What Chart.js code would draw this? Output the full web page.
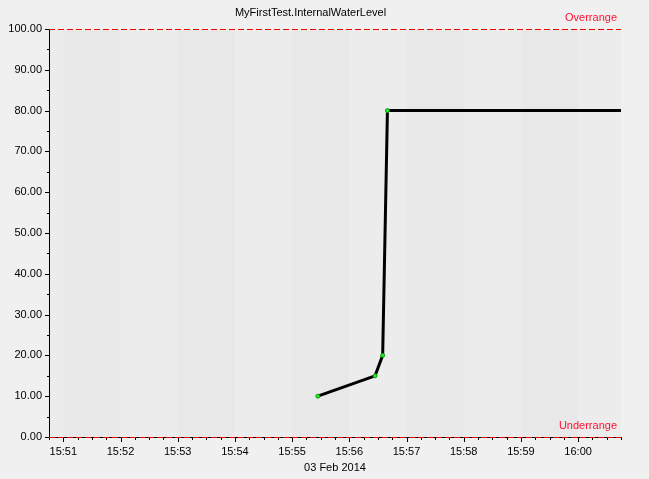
<!DOCTYPE html>
<html>
<head>
<meta charset="utf-8">
<script src="https://cdn.jsdelivr.net/npm/chart.js@4.4.1/dist/chart.umd.min.js"></script>
<style>
  html, body { margin: 0; padding: 0; background: #f0f0f0; }
  canvas { display: block; }
</style>
</head>
<body>
<canvas id="chart" width="649" height="479"></canvas>
<script>
// times are seconds after 15:50:00, 03 Feb 2014
var sampleTimes = [327, 387, 395, 400, 645];
var waterLevel  = [10, 15, 20, 80, 80];

var minuteStarts = [60, 120, 180, 240, 300, 360, 420, 480, 540, 600];
var minuteLabels = ['15:51', '15:52', '15:53', '15:54', '15:55', '15:56', '15:57', '15:58', '15:59', '16:00'];
var dateLabel = '03 Feb 2014';
var chartTitle = 'MyFirstTest.InternalWaterLevel';

var xMin = 45, xMax = 645;
var overLimit = 100, underLimit = 0;

var FONT = "'Liberation Sans', Arial, sans-serif";

var decorPlugin = {
  id: 'decor',
  beforeDraw: function (chart) {
    var ctx = chart.ctx, a = chart.chartArea, x = chart.scales.x;
    var edges = [xMin].concat(minuteStarts).concat([xMax]);
    ctx.save();
    for (var i = 0; i < edges.length - 1; i++) {
      ctx.fillStyle = i % 2 === 0 ? '#ececec' : '#e8e8e8';
      var x0 = x.getPixelForValue(edges[i]);
      var x1 = x.getPixelForValue(edges[i + 1]);
      ctx.fillRect(x0, a.top, x1 - x0, a.bottom - a.top);
    }
    ctx.restore();
  },
  afterDraw: function (chart) {
    var ctx = chart.ctx, a = chart.chartArea, x = chart.scales.x, y = chart.scales.y;
    ctx.save();
    ctx.strokeStyle = '#000';
    ctx.lineWidth = 1;
    ctx.beginPath();
    x.ticks.forEach(function (t) {
      var px = Math.round(x.getPixelForValue(t.value)) + 0.5;
      var len = t.value % 60 === 0 ? 5 : 3;
      ctx.moveTo(px, a.bottom);
      ctx.lineTo(px, a.bottom + len);
    });
    y.ticks.forEach(function (t) {
      var py = Math.round(y.getPixelForValue(t.value)) + 0.5;
      var len = t.value % 10 === 0 ? 4 : 2;
      ctx.moveTo(a.left, py);
      ctx.lineTo(a.left - len, py);
    });
    ctx.stroke();

    // limit lines
    ctx.strokeStyle = '#ee0000';
    ctx.setLineDash([6, 3]);
    [overLimit, underLimit].forEach(function (v) {
      var py = Math.round(y.getPixelForValue(v)) + 0.5;
      ctx.beginPath();
      ctx.moveTo(a.left, py);
      ctx.lineTo(a.right, py);
      ctx.stroke();
    });
    ctx.setLineDash([]);

    ctx.fillStyle = '#ff1030';
    ctx.font = '11px ' + FONT;
    ctx.textAlign = 'right';
    ctx.textBaseline = 'middle';
    ctx.fillText('Overrange', a.right - 4, y.getPixelForValue(overLimit) - 11);
    ctx.fillText('Underrange', a.right - 4, y.getPixelForValue(underLimit) - 11);
    ctx.restore();
  }
};

new Chart(document.getElementById('chart'), {
  type: 'line',
  data: {
    datasets: [{
      label: chartTitle,
      data: sampleTimes.map(function (t, i) { return { x: t, y: waterLevel[i] }; }),
      borderColor: '#000',
      borderWidth: 3,
      tension: 0,
      pointRadius: sampleTimes.map(function (t, i) { return i === sampleTimes.length - 1 ? 0 : 2; }),
      pointBackgroundColor: '#22ee22',
      pointBorderColor: '#119911',
      pointBorderWidth: 1
    }]
  },
  options: {
    responsive: false,
    animation: false,
    layout: { padding: { top: 0, right: 28, left: 0, bottom: 0 } },
    plugins: {
      legend: { display: false },
      tooltip: { enabled: false },
      title: {
        display: true,
        text: chartTitle,
        color: '#000',
        font: { family: FONT, size: 11, weight: 'normal', lineHeight: '13px' },
        padding: { top: 6, bottom: 10 }
      }
    },
    scales: {
      x: {
        type: 'linear',
        min: xMin,
        max: xMax,
        grid: { display: false, drawTicks: false },
        border: { display: true, color: '#000' },
        ticks: {
          stepSize: 15,
          autoSkip: false,
          maxRotation: 0,
          padding: 8,
          color: '#000',
          font: { family: FONT, size: 11 },
          callback: function (v) {
            var k = minuteStarts.indexOf(v);
            return k >= 0 ? minuteLabels[k] : '';
          }
        },
        title: {
          display: true,
          text: dateLabel,
          color: '#000',
          font: { family: FONT, size: 11, lineHeight: '13px' },
          padding: { top: 0, bottom: 5 }
        },
        afterFit: function (s) { s.height = 42; }
      },
      y: {
        min: 0,
        max: 100,
        grid: { display: false, drawTicks: false },
        border: { display: true, color: '#000' },
        ticks: {
          stepSize: 5,
          padding: 7,
          color: '#000',
          font: { family: FONT, size: 11 },
          callback: function (v) { return v % 10 === 0 ? v.toFixed(2) : ''; }
        },
        afterFit: function (s) { s.width = 49; }
      }
    }
  },
  plugins: [decorPlugin]
});
</script>
</body>
</html>
